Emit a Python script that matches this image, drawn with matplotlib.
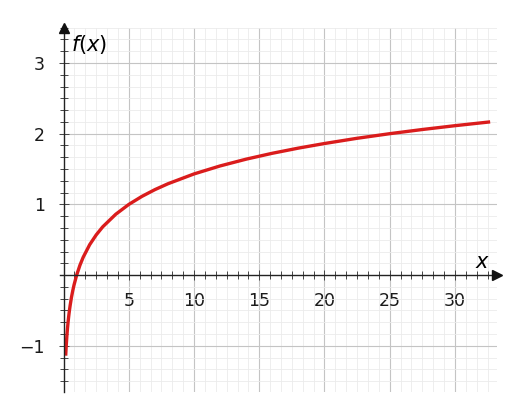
import matplotlib
matplotlib.use('Agg')
import matplotlib.pyplot as plt
from matplotlib.ticker import MultipleLocator, FixedLocator

# points
x_vals = [0.16, 0.2, 0.25, 0.3, 0.35, 0.4, 0.45, 0.5, 0.6, 0.7, 0.8, 1.0, 1.25, 1.5,
          2.0, 2.5, 3.0, 4.0, 5.0, 6.0, 7.0, 8.0, 10.0, 12.0, 14.0, 16.0, 18.0,
          20.0, 22.5, 25.0, 27.5, 30.0, 32.7]
y_vals = [-1.139, -1.000, -0.861, -0.748, -0.652, -0.569, -0.496, -0.431, -0.317,
          -0.222, -0.139, 0.0, 0.139, 0.252, 0.431, 0.569, 0.683, 0.861, 1.0,
          1.113, 1.209, 1.292, 1.431, 1.544, 1.640, 1.723, 1.796, 1.861, 1.935,
          2.0, 2.059, 2.113, 2.167]

x_ticks = [5, 10, 15, 20, 25, 30]
y_ticks = [-1, 1, 2, 3]

plt.rcParams['mathtext.fontset'] = 'dejavusans'

fig = plt.figure(figsize=(5.19, 4.12), dpi=100)
ax = fig.add_axes([0.115, 0.049, 0.842, 0.884])

ax.set_xlim(-0.3, 33.2)
ax.set_ylim(-1.65, 3.5)

ax.plot(x_vals, y_vals, color='#da1c1c', lw=2.4, solid_capstyle='butt', zorder=5)

# axes through the origin
for side in ['top', 'right']:
    ax.spines[side].set_visible(False)
ax.spines['left'].set_position(('data', 0))
ax.spines['bottom'].set_position(('data', 0))
for side in ['left', 'bottom']:
    ax.spines[side].set_linewidth(1.0)
    ax.spines[side].set_color('#222222')
    ax.spines[side].set_zorder(6)

ax.plot(1, 0, marker='>', color='#111111', ms=7, transform=ax.get_yaxis_transform(),
        clip_on=False, zorder=7)
ax.plot(0, 1, marker='^', color='#111111', ms=7, transform=ax.get_xaxis_transform(),
        clip_on=False, zorder=7)

ax.xaxis.set_major_locator(FixedLocator(x_ticks))
ax.yaxis.set_major_locator(FixedLocator(y_ticks))
ax.xaxis.set_minor_locator(MultipleLocator(5 / 6))
ax.yaxis.set_minor_locator(MultipleLocator(1 / 6))

ax.tick_params(which='both', direction='inout', color='#444444', width=0.7)
ax.tick_params(which='major', length=7, labelsize=12.5, labelcolor='#1a1a1a')
ax.tick_params(which='minor', length=6)
ax.tick_params(axis='x', which='major', pad=9)
ax.tick_params(axis='y', which='major', pad=10)

ax.set_yticklabels(['\u22121', '1', '2', '3'])

ax.grid(which='major', color='#c4c4c4', lw=0.8)
ax.grid(which='minor', color='#ebebeb', lw=0.6)
ax.set_axisbelow(True)

ax.text(0.55, 3.26, r'$f(x)$', fontsize=15, va='center', ha='left')
ax.text(32.1, 0.19, r'$x$', fontsize=15, va='center', ha='center')

plt.savefig('out.png', dpi=100)
